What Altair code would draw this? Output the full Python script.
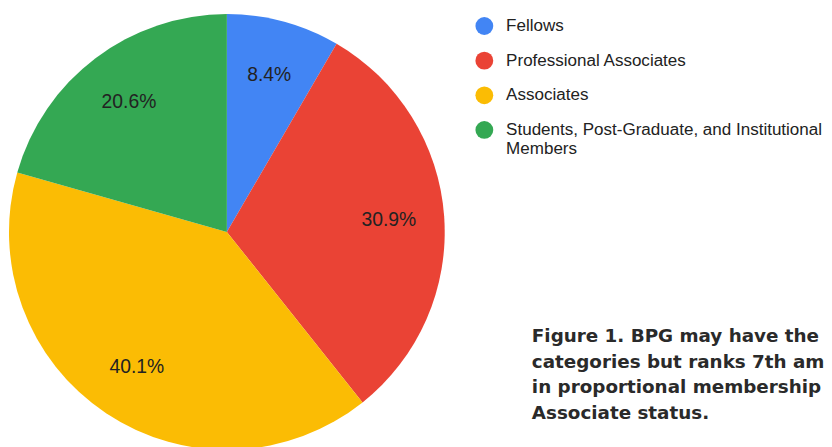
import altair as alt
import pandas as pd

categories = ["Fellows", "Professional Associates", "Associates",
              "Students, Post-Graduate, and Institutional Members"]
shares = [8.4, 30.9, 40.1, 20.6]
labels = ["8.4%", "30.9%", "40.1%", "20.6%"]
colors = ["#4285F4", "#EA4335", "#FBBC04", "#34A853"]
caption_lines = [
    "Figure 1. BPG may have the lowest barriers to its membership",
    "categories but ranks 7th among comparable societies",
    "in proportional membership at Fellow and Professional",
    "Associate status.",
]

df = pd.DataFrame({
    "category": categories,
    "value": shares,
    "label": labels,
    "idx": list(range(len(categories))),
})

CX, CY, R = 221, 224, 220

legend = alt.Legend(
    title=None,
    orient="none",
    legendX=472,
    legendY=7,
    padding=0,
    symbolType="circle",
    symbolSize=324,
    symbolStrokeWidth=0,
    symbolOpacity=1,
    labelFont="Liberation Sans",
    labelFontSize=17.2,
    labelColor="#222222",
    labelOffset=13,
    labelLimit=500,
    rowPadding=17,
    labelExpr="datum.label == 'Students, Post-Graduate, and Institutional Members' ? ['Students, Post-Graduate, and Institutional', 'Members'] : datum.label",
)

base = alt.Chart(df).encode(
    theta=alt.Theta("value:Q", stack=True),
    order=alt.Order("idx:Q"),
)

arcs = base.mark_arc(outerRadius=R).encode(
    x=alt.value(CX),
    y=alt.value(CY),
    color=alt.Color("category:N",
                    scale=alt.Scale(domain=categories, range=colors),
                    sort=categories,
                    legend=legend),
)

texts = base.mark_text(radius=164, font="Liberation Sans", fontSize=19.5,
                       fill="#222222", align="center", baseline="middle").encode(
    x=alt.value(CX),
    y=alt.value(CY),
    detail="category:N",
    text="label:N",
)

caption = alt.Chart(pd.DataFrame({"k": [0]})).mark_text(
    font="DejaVu Sans", fontSize=18.5, fontWeight="bold", fill="#2a2a2a",
    align="left", baseline="alphabetic", lineHeight=26,
).encode(
    x=alt.value(529),
    y=alt.value(335),
    text=alt.value(caption_lines),
)

chart = alt.layer(arcs, texts, caption).properties(
    width=824,
    height=439,
    autosize=alt.AutoSizeParams(type="none"),
    padding=0,
).configure_view(stroke=None)

chart.save("out.html", embed_options={"renderer": "svg", "actions": False})
